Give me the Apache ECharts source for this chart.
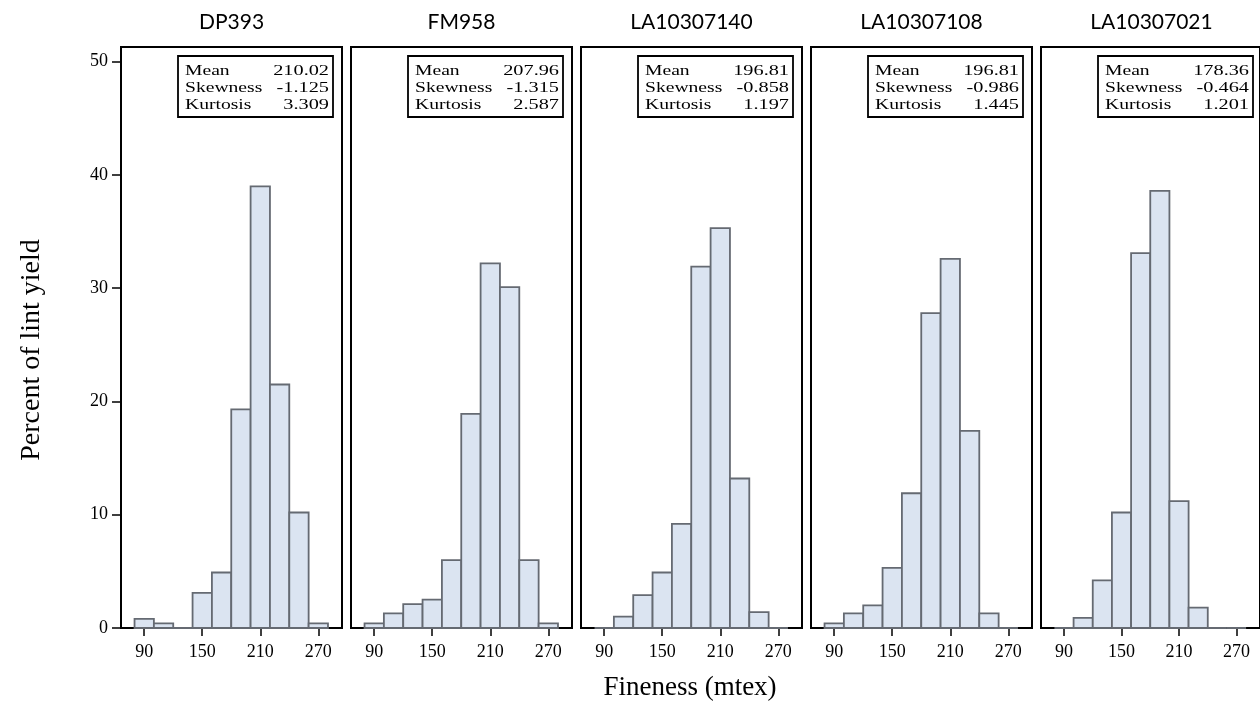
<!DOCTYPE html>
<html>
<head>
<meta charset="utf-8">
<script src="https://cdn.jsdelivr.net/npm/echarts@6/dist/echarts.min.js"></script>
<style>
  html, body { margin: 0; padding: 0; background: #fff; }
  #chart { width: 1260px; height: 704px; }
</style>
</head>
<body>
<div id="chart"></div>
<script>
// Cultivar panels and histogram bins (bin centres, width 20 mtex)
const cultivars = ['DP393', 'FM958', 'LA10307140', 'LA10307108', 'LA10307021'];
const binCenters = [90, 110, 130, 150, 170, 190, 210, 230, 250, 270];
const binWidth = 20;

// Percent of lint yield in each fineness bin, per cultivar
const pctDP393      = [0.8, 0.4, 0.0, 3.1, 4.9, 19.3, 39.0, 21.5, 10.2, 0.4];
const pctFM958      = [0.4, 1.3, 2.1, 2.5, 6.0, 18.9, 32.2, 30.1, 6.0, 0.4];
const pctLA10307140 = [0.0, 1.0, 2.9, 4.9, 9.2, 31.9, 35.3, 13.2, 1.4, 0.0];
const pctLA10307108 = [0.4, 1.3, 2.0, 5.3, 11.9, 27.8, 32.6, 17.4, 1.3, 0.0];
const pctLA10307021 = [0.0, 0.9, 4.2, 10.2, 33.1, 38.6, 11.2, 1.8, 0.0, 0.0];

// Summary statistics shown in each panel's inset
const means     = ['210.02', '207.96', '196.81', '196.81', '178.36'];
const skewness  = ['-1.125', '-1.315', '-0.858', '-0.986', '-0.464'];
const kurtosis  = ['3.309', '2.587', '1.197', '1.445', '1.201'];

// Tick labels
const xTicks = [90, 150, 210, 270];
const yTicks = [0, 10, 20, 30, 40, 50];

const series = [pctDP393, pctFM958, pctLA10307140, pctLA10307108, pctLA10307021];

// Panel geometry
const panelLeft0 = 121, panelStep = 230, panelWidth = 221;
const panelTop = 47, panelHeight = 581;
const serif = '"Liberation Serif", "Times New Roman", serif';
const sans = 'Lato, "Open Sans", sans-serif';

const chart = echarts.init(document.getElementById('chart'), null, { renderer: 'canvas' });

const grids = [], xAxes = [], yAxes = [], seriesList = [], graphics = [];

function renderBin(params, api) {
  const c = api.value(0), v = api.value(1);
  const p0 = api.coord([c - binWidth / 2, 0]);
  const p1 = api.coord([c + binWidth / 2, v]);
  return {
    type: 'rect',
    shape: { x: p0[0], y: p1[1], width: p1[0] - p0[0], height: p0[1] - p1[1] },
    style: { fill: '#dbe4f1', stroke: '#656a72', lineWidth: 1.8 }
  };
}

// Inset text is set in a horizontally widened serif face
function insetText(str, x, y, alignRight, stretch) {
  return {
    type: 'text', x: x, y: y, scaleX: stretch,
    style: { text: str, font: '14px ' + serif, fill: '#000',
             align: alignRight ? 'right' : 'left', verticalAlign: 'middle' }
  };
}

cultivars.forEach((name, i) => {
  const left = panelLeft0 + i * panelStep;
  grids.push({
    left: left, top: panelTop, width: panelWidth, height: panelHeight,
    show: true, borderColor: '#000', borderWidth: 2, backgroundColor: 'transparent'
  });
  xAxes.push({
    type: 'value', gridIndex: i, min: 66, max: 294.5,
    axisLine: { show: true, onZero: false, lineStyle: { color: '#000', width: 2 } },
    axisTick: { show: true, customValues: xTicks, length: 8, lineStyle: { color: '#000', width: 1.5 } },
    axisLabel: { customValues: xTicks, color: '#000', fontFamily: serif, fontSize: 18, margin: 15 },
    splitLine: { show: false }
  });
  yAxes.push({
    type: 'value', gridIndex: i, min: 0, max: 51.3,
    axisLine: { show: i === 0, lineStyle: { color: '#000', width: 2 } },
    axisTick: { show: i === 0, customValues: yTicks, length: 9, lineStyle: { color: '#000', width: 1.5 } },
    axisLabel: { show: i === 0, customValues: yTicks, color: '#000', fontFamily: serif, fontSize: 18, margin: 13 },
    splitLine: { show: false }
  });
  seriesList.push({
    type: 'custom', xAxisIndex: i, yAxisIndex: i,
    renderItem: renderBin,
    encode: { x: 0, y: 1 },
    data: binCenters.map((c, k) => [c, series[i][k]]),
    silent: true, clip: false
  });

  // Panel heading
  graphics.push({
    type: 'text', x: left + panelWidth / 2, y: 22,
    style: { text: name, font: '21px ' + sans, fill: '#000', align: 'center', verticalAlign: 'middle' }
  });

  // Statistics inset
  const boxW = 155, boxH = 61;
  const bx = left + panelWidth - 9 - boxW, by = 56;
  graphics.push({
    type: 'group', x: bx, y: by,
    children: [
      { type: 'rect', shape: { x: 0, y: 0, width: boxW, height: boxH },
        style: { fill: '#fff', stroke: '#000', lineWidth: 1.8 } },
      insetText('Mean', 7, 15, false, 1.4),
      insetText('Skewness', 7, 32, false, 1.4),
      insetText('Kurtosis', 7, 49, false, 1.4),
      insetText(means[i], boxW - 4, 15, true, 1.45),
      insetText(skewness[i], boxW - 4, 32, true, 1.45),
      insetText(kurtosis[i], boxW - 4, 49, true, 1.45)
    ]
  });
});

// Shared axis titles
graphics.push({
  type: 'text', x: 690, y: 688,
  style: { text: 'Fineness (mtex)', font: '27px ' + serif, fill: '#000', align: 'center', verticalAlign: 'middle' }
});
graphics.push({
  type: 'text', x: 32, y: 350, rotation: Math.PI / 2,
  style: { text: 'Percent of lint yield', font: '28px ' + serif, fill: '#000', align: 'center', verticalAlign: 'middle' }
});

chart.setOption({
  animation: false,
  backgroundColor: '#fff',
  grid: grids,
  xAxis: xAxes,
  yAxis: yAxes,
  series: seriesList,
  graphic: graphics
});
</script>
</body>
</html>
